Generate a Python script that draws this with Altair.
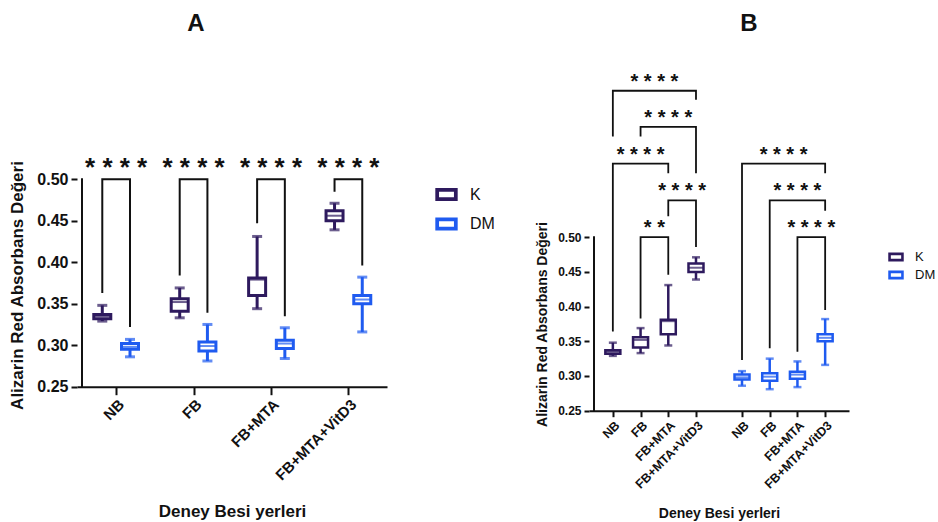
import json
import altair as alt
import pandas as pd

# ---------------- data ----------------
categories = ["NB", "FB", "FB+MTA", "FB+MTA+VitD3"]
groups = ["K", "DM"]
group_colors = ["#2e1a5e", "#1f5bf0"]

k_min = [0.329, 0.333, 0.344, 0.439]
k_q1 = [0.332, 0.341, 0.360, 0.450]
k_med = [0.335, 0.352, 0.379, 0.456]
k_q3 = [0.337, 0.356, 0.381, 0.462]
k_max = [0.348, 0.369, 0.431, 0.471]

dm_min = [0.286, 0.281, 0.284, 0.316]
dm_q1 = [0.295, 0.293, 0.296, 0.350]
dm_med = [0.298, 0.299, 0.302, 0.355]
dm_q3 = [0.302, 0.304, 0.306, 0.360]
dm_max = [0.307, 0.325, 0.321, 0.382]

y_ticks = [0.25, 0.30, 0.35, 0.40, 0.45, 0.50]

# Panel A significance brackets (K vs DM inside each medium)
a_stars = ["****", "****", "****", "****"]
a_top = [0.50, 0.50, 0.50, 0.50]
a_k_end = [0.363, 0.384, 0.447, 0.485]
a_dm_end = [0.322, 0.339, 0.335, 0.396]

# Panel B significance brackets (between media inside each group)
b_group = ["K", "K", "K", "K", "K", "DM", "DM", "DM"]
b_from = ["NB", "FB", "NB", "FB+MTA", "FB", "NB", "FB", "FB+MTA"]
b_to = ["FB+MTA+VitD3", "FB+MTA+VitD3", "FB+MTA", "FB+MTA+VitD3", "FB+MTA",
        "FB+MTA+VitD3", "FB+MTA+VitD3", "FB+MTA+VitD3"]
b_top = [0.711, 0.659, 0.606, 0.553, 0.500, 0.606, 0.553, 0.500]
b_left_end = [0.645, 0.645, 0.364, 0.530, 0.383, 0.323, 0.340, 0.335]
b_right_end = [0.698, 0.592, 0.592, 0.486, 0.446, 0.592, 0.538, 0.395]
b_stars = ["****", "****", "****", "****", "**", "****", "****", "****"]

# ---------------- layout constants ----------------
FONT = "Liberation Sans"
INK = "#111111"
A_SHIFT = 0.179        # K / DM dodge in panel A (x units)
B_DM_SHIFT = 4.66      # where the DM block starts in panel B (x units)
# hollow rectangle legend symbol (outer ring minus inner hole)
RING_PATH = ("M-1,-0.571L1,-0.571L1,0.571L-1,0.571Z"
             "M-0.667,-0.238L-0.667,0.238L0.667,0.238L0.667,-0.238Z")

stats = {"K": (k_min, k_q1, k_med, k_q3, k_max),
         "DM": (dm_min, dm_q1, dm_med, dm_q3, dm_max)}
rows = []
for g in groups:
    mn, q1, md, q3, mx = stats[g]
    for ci, c in enumerate(categories):
        rows.append(dict(group=g, cat=c, lo=mn[ci], q1=q1[ci], med=md[ci],
                         q3=q3[ci], hi=mx[ci],
                         posA=ci + (A_SHIFT if g == "DM" else -A_SHIFT),
                         posB=ci + (B_DM_SHIFT if g == "DM" else 0.0)))
boxes = pd.DataFrame(rows)

# brackets A
ba, sa = [], []
for ci in range(len(categories)):
    xk, xd = ci - A_SHIFT, ci + A_SHIFT
    pts = [(xk, a_k_end[ci]), (xk, a_top[ci]), (xd, a_top[ci]), (xd, a_dm_end[ci])]
    for s, (x, y) in enumerate(pts):
        ba.append(dict(bid=ci, seq=s, x=x, y=y))
    sa.append(dict(x=float(ci), y=a_top[ci], t=" ".join(a_stars[ci])))
br_a = pd.DataFrame(ba)
st_a = pd.DataFrame(sa)

# brackets B
def bpos(g, c):
    return categories.index(c) + (B_DM_SHIFT if g == "DM" else 0.0)

bb, sb = [], []
for i in range(len(b_group)):
    x0, x1 = bpos(b_group[i], b_from[i]), bpos(b_group[i], b_to[i])
    pts = [(x0, b_left_end[i]), (x0, b_top[i]), (x1, b_top[i]), (x1, b_right_end[i])]
    for s, (x, y) in enumerate(pts):
        bb.append(dict(bid=i, seq=s, x=x, y=y))
    sb.append(dict(x=(x0 + x1) / 2, y=b_top[i], t=" ".join(b_stars[i])))
br_b = pd.DataFrame(bb)
st_b = pd.DataFrame(sb)

cats_js = json.dumps(categories)


def panel(pos, xdomain, ydomain, xvalues, label_expr, width, height, p):
    xscale = alt.Scale(domain=xdomain, nice=False, zero=False)
    yscale = alt.Scale(domain=ydomain, nice=False, zero=False)
    xaxis = alt.Axis(values=xvalues, labelExpr=label_expr, labelAngle=-45,
                     labelOverlap=False, title="Deney Besi yerleri", grid=False,
                     labelFont=FONT, labelFontSize=p["xlab"], labelFontWeight="bold",
                     labelColor=INK, titleFont=FONT, titleFontSize=p["xtitle"],
                     titleFontWeight="bold", titleColor=INK,
                     titlePadding=p["xtpad"], domainColor=INK, domainWidth=2,
                     tickColor=INK, tickWidth=2, tickSize=p["xtick"], labelPadding=2)
    yaxis = alt.Axis(values=y_ticks, format=".2f", title="Alizarin Red Absorbans Değeri",
                     grid=False, domain=False, labelOverlap=False,
                     labelFont=FONT, labelFontSize=p["ylab"],
                     labelFontWeight="bold", labelColor=INK, titleFont=FONT,
                     titleFontSize=p["ytitle"], titleFontWeight="bold", titleColor=INK,
                     titlePadding=p["ytpad"], titleY=p["tity"],
                     tickColor=INK, tickWidth=2, tickSize=p["ytick"], labelPadding=3)

    def X(f):
        return alt.X(f"{f}:Q", scale=xscale, axis=xaxis)

    def Y(f):
        return alt.Y(f"{f}:Q", scale=yscale, axis=yaxis)

    cscale = alt.Scale(domain=groups, range=group_colors)
    legend = alt.Legend(title=None, orient="none", legendX=p["lx"], legendY=p["ly"],
                        symbolType=RING_PATH, symbolSize=p["lsym"],
                        symbolStrokeWidth=0,
                        labelFont=FONT, labelFontSize=p["lfs"], labelColor=INK,
                        rowPadding=p["lrow"], labelOffset=p["loff"], padding=0)
    col = alt.Color("group:N", scale=cscale, legend=legend)

    base = alt.Chart(boxes)
    box = base.mark_bar(filled=False, strokeWidth=p["lw"], width=p["box"]).encode(
        x=X(pos), y=Y("q1"), y2="q3", color=col)
    w_lo = base.mark_rule(strokeWidth=p["lw"]).encode(x=X(pos), y=Y("lo"), y2="q1", color=col)
    w_hi = base.mark_rule(strokeWidth=p["lw"]).encode(x=X(pos), y=Y("q3"), y2="hi", color=col)
    cap_lo = base.mark_tick(orient="horizontal", size=p["cap"], thickness=p["lw"]).encode(
        x=X(pos), y=Y("lo"), color=col)
    cap_hi = base.mark_tick(orient="horizontal", size=p["cap"], thickness=p["lw"]).encode(
        x=X(pos), y=Y("hi"), color=col)
    med = base.mark_tick(orient="horizontal", size=p["box"], thickness=2).encode(
        x=X(pos), y=Y("med"), color=col)

    axis_df = pd.DataFrame({"x": [xdomain[0]], "y0": [min(y_ticks)], "y1": [max(y_ticks)]})
    yline = alt.Chart(axis_df).mark_rule(color=INK, strokeWidth=2, strokeCap="square").encode(
        x=X("x"), y=Y("y0"), y2="y1")

    br = alt.Chart(p["br"]).mark_line(color=INK, strokeWidth=p["bw"], strokeJoin="miter").encode(
        x=X("x"), y=Y("y"), detail="bid:N", order="seq:Q")
    st = alt.Chart(p["st"]).mark_text(font=FONT, fontSize=p["sfs"], fontWeight="bold",
                                      color=INK, baseline="alphabetic", dy=p["sdy"]).encode(
        x=X("x"), y=Y("y"), text="t:N")

    return alt.layer(yline, box, w_lo, w_hi, cap_lo, cap_hi, med, br, st).properties(
        width=width, height=height,
        title=alt.TitleParams(text=p["title"], font=FONT, fontSize=24, fontWeight="bold",
                              color=INK, anchor="middle", frame="group", dx=p["tdx"],
                              offset=p["toff"], baseline="alphabetic"))


pA = dict(xlab=15, xtitle=17, xtpad=21, xtick=8, ylab=16, ytitle=17, ytpad=10, ytick=6,
          tity=225, lx=358, ly=123, lsym=500, lw=3, lfs=16, lrow=9.5, loff=12,
          cap=10, box=17, br=br_a, bw=2, st=st_a, sfs=26, sdy=-3,
          title="A", tdx=-36, toff=5)
pB = dict(xlab=12.5, xtitle=14, xtpad=16, xtick=6, ylab=12, ytitle=14, ytpad=8, ytick=5,
          tity=264, lx=299, ly=189, lsym=240, lw=2.5, lfs=13, lrow=3, loff=11,
          cap=8, box=15, br=br_b, bw=1.8, st=st_b, sfs=20, sdy=-3,
          title="B", tdx=30, toff=5)

xvals_a = list(range(len(categories)))
xvals_b = [float(i) for i in range(len(categories))] + \
          [i + B_DM_SHIFT for i in range(len(categories))]

chartA = panel("posA", [-0.441, 3.434], [0.25, 0.6436], xvals_a,
               f"{cats_js}[round(datum.value)]", 310, 326.7, pA)
chartB = panel("posB", [-0.68, 8.34], [0.25, 0.7553], xvals_b,
               f"{cats_js}[datum.value < 4 ? round(datum.value) : round(datum.value - {B_DM_SHIFT})]",
               260, 350.7, pB)

chart = alt.hconcat(chartA, chartB, spacing=40).resolve_scale(
    color="independent").resolve_legend(color="independent").properties(
    padding={"left": 8, "top": 12, "right": 2, "bottom": 2}
).configure(background="white").configure_view(stroke=None)

chart.save("out.html", embed_options={"renderer": "svg", "actions": False})
